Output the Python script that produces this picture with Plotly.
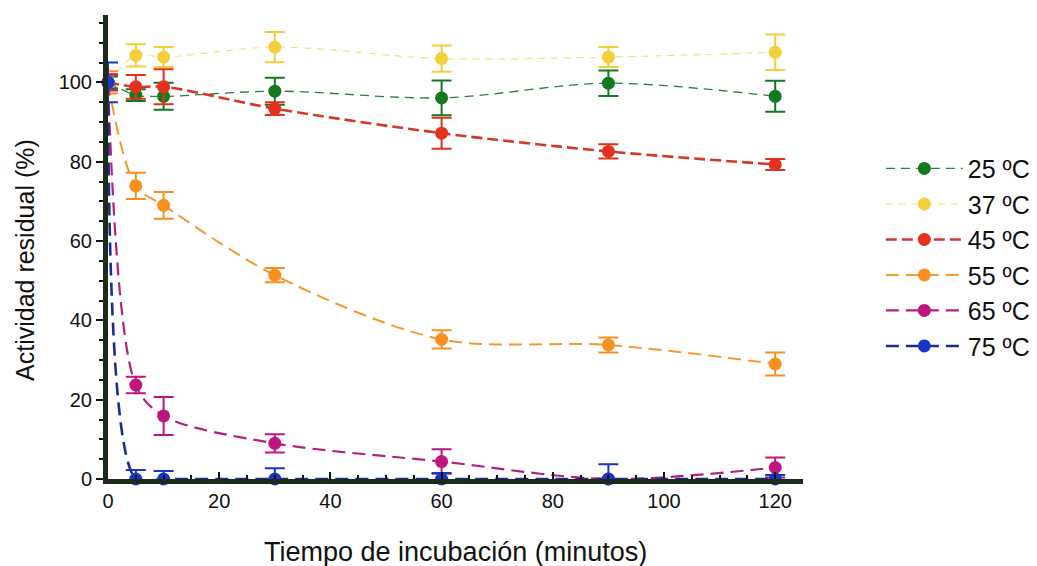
import plotly.graph_objects as go

tiempo = [0, 5, 10, 30, 60, 90, 120]

series_names = ["25 ºC", "37 ºC", "45 ºC", "55 ºC", "65 ºC", "75 ºC"]
act_25 = [100, 96.8, 96.5, 97.8, 96.1, 99.8, 96.5]
err_25 = [1.5, 1.5, 3.4, 3.4, 4.4, 3.2, 3.9]
act_37 = [100, 106.8, 106.4, 108.9, 106.0, 106.4, 107.6]
err_37 = [2.0, 2.8, 2.5, 3.8, 3.3, 2.5, 4.5]
act_45 = [100, 98.9, 98.9, 93.4, 87.2, 82.6, 79.3]
err_45 = [2.0, 3.0, 4.4, 1.6, 3.9, 1.8, 1.4]
act_55 = [100, 73.9, 69.0, 51.4, 35.2, 33.8, 29.0]
err_55 = [2.8, 3.3, 3.4, 1.8, 2.3, 1.9, 2.9]
act_65 = [100, 23.7, 15.9, 9.0, 4.4, 0.0, 2.9]
err_65 = [2.0, 2.1, 4.8, 2.3, 3.1, 0.0, 2.5]
act_75 = [100, 0.0, 0.0, 0.0, 0.0, 0.0, 0.0]
err_75 = [5.0, 2.3, 2.0, 2.7, 1.5, 3.7, 1.0]

x_title = "Tiempo de incubación (minutos)"
y_title = "Actividad residual (%)"

marker_colors = ["#137a20", "#f3cf3a", "#e2311c", "#f7901e", "#c0157f", "#1a36c9"]
line_colors = ["#2e7d3a", "#efe27a", "#d3372b", "#f59a2e", "#b3207f", "#1c2d8e"]
line_widths = [1.3, 1.1, 2.6, 2.0, 2.2, 2.6]
dashes = ["9px,6px", "7px,6px", "11px,5px", "13px,7px", "13px,7px", "13px,7px"]

values = [act_25, act_37, act_45, act_55, act_65, act_75]
errors = [err_25, err_37, err_45, err_55, err_65, err_75]

fig = go.Figure()
for name, y, e, mc, lc, lw, d in zip(series_names, values, errors, marker_colors,
                                      line_colors, line_widths, dashes):
    fig.add_trace(go.Scatter(
        x=tiempo, y=y, name=name, mode="lines+markers",
        line=dict(color=lc, width=lw, dash=d, shape="spline", smoothing=0.9),
        marker=dict(color=mc, size=13),
        error_y=dict(type="data", array=e, visible=True, color=mc,
                     thickness=2, width=10),
        cliponaxis=False,
    ))

fig.update_layout(
    width=1037, height=566,
    margin=dict(l=108, r=234, t=15, b=87, autoexpand=False),
    paper_bgcolor="white", plot_bgcolor="white",
    font=dict(family="Liberation Sans, Arial, sans-serif", color="#111"),
    showlegend=True,
    legend=dict(x=1.112, y=0.478, xanchor="left", yanchor="middle",
                font=dict(size=25, color="#111"), itemwidth=77,
                tracegroupgap=0, bgcolor="rgba(0,0,0,0)"),
    annotations=[
        dict(text=x_title, xref="paper", yref="paper", x=0.5, y=0,
             xanchor="center", yanchor="middle", yshift=-73, showarrow=False,
             font=dict(size=27, color="#111")),
        dict(text=y_title, xref="paper", yref="paper", x=0, y=0.472,
             xanchor="center", yanchor="middle", xshift=-83, textangle=-90,
             showarrow=False, font=dict(size=25, color="#111")),
    ],
)
fig.update_xaxes(
    range=[0, 125], tickvals=[0, 20, 40, 60, 80, 100, 120],
    ticks="inside", ticklen=7, tickwidth=2, tickcolor="#111",
    minor=dict(dtick=5, tick0=0, ticks="inside", ticklen=4, tickwidth=2, tickcolor="#111"),
    showline=True, linewidth=5, linecolor="#1b2a1b",
    showgrid=False, zeroline=False,
    tickfont=dict(size=20, color="#111"),
)
fig.update_yaxes(
    range=[0, 117], tickvals=[0, 20, 40, 60, 80, 100],
    ticks="outside", ticklen=7, tickwidth=2, tickcolor="#111",
    minor=dict(dtick=5, tick0=0, ticks="outside", ticklen=4, tickwidth=2, tickcolor="#111"),
    showline=True, linewidth=5, linecolor="#1b2a1b",
    showgrid=False, zeroline=False,
    tickfont=dict(size=20, color="#111"),
)

fig.write_html("out.html")
